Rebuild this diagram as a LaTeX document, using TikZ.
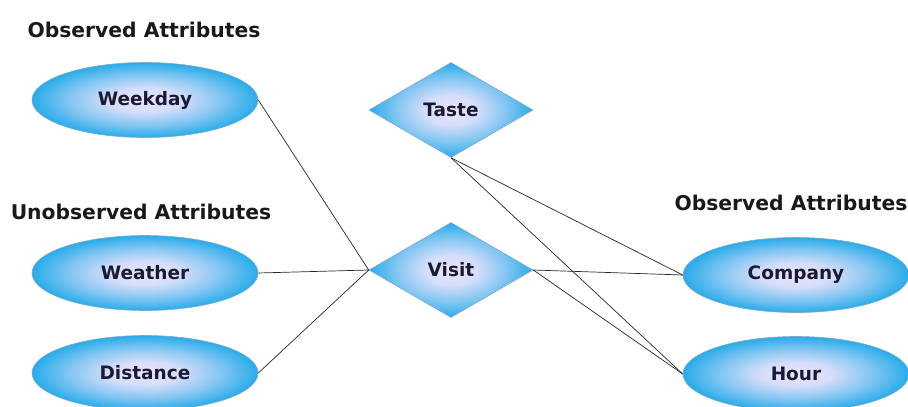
\documentclass[tikz,border=0pt]{standalone}
\usepackage{fontspec}
\setmainfont{DejaVu Sans}
\usetikzlibrary{shapes.geometric}

\definecolor{attrblue}{RGB}{40,172,234}
\definecolor{attrlight}{RGB}{236,228,252}
\definecolor{attrline}{RGB}{130,170,200}
\definecolor{labelink}{RGB}{26,26,50}
\pgfdeclareradialshading{attrglow}{\pgfpoint{0bp}{0bp}}{%
  color(0bp)=(attrlight); color(8bp)=(attrlight!88!attrblue);
  color(17bp)=(attrlight!45!attrblue); color(25bp)=(attrblue); color(50bp)=(attrblue)}

\begin{document}
\begin{tikzpicture}[
              x=1pt, y=-1pt,
              attr/.style={ellipse, draw=attrline, line width=0.6pt, inner sep=0pt,
                minimum width=226pt, minimum height=75pt, shading=attrglow,
                text=labelink, font=\fontsize{18.5}{21}\selectfont\bfseries},
              rel/.style={diamond, draw=attrline, line width=0.6pt, inner sep=0pt,
                minimum width=164pt, minimum height=95pt, shading=attrglow,
                text=labelink, font=\fontsize{18.5}{21}\selectfont\bfseries},
              group/.style={text=black!90, font=\fontsize{20.3}{23}\selectfont\bfseries},
              link/.style={draw=black!85, line width=0.7pt}
            ]
              \useasboundingbox (0,0) rectangle (908,407);
              % titles
              \node[group] (obsleft) at (144,30) {Observed Attributes};
              \node[group] (unobs) at (141,212) {Unobserved Attributes};
              \node[group] (obsright) at (791,203) {Observed Attributes};
              % attributes
              \node[attr] (weekday) at (145,100) {Weekday};
              \node[attr] (weather) at (145,273) {Weather};
              \node[attr] (distance) at (145,373) {Distance};
              \node[attr] (company) at (796,275) {Company};
              \node[attr] (hour) at (796,374) {Hour};
              % relations
              \node[rel] (taste) at (451,110) {Taste};
              \node[rel] (visit) at (451,270) {Visit};
              % links
              \draw[link] (weekday.east) -- (visit.west);
              \draw[link] (weather.east) -- (visit.west);
              \draw[link] (distance.east) -- (visit.west);
              \draw[link] (taste.south) -- (company.west);
              \draw[link] (taste.south) -- (hour.west);
              \draw[link] (visit.east) -- (company.west);
              \draw[link] (visit.east) -- (hour.west);
            \end{tikzpicture}
\end{document}
